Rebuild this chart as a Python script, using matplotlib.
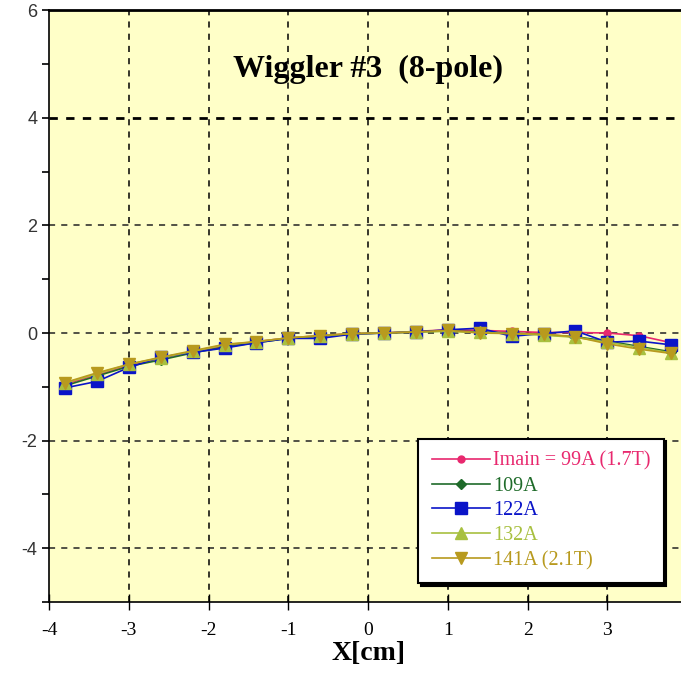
import numpy as np
from matplotlib import pyplot as plt
from matplotlib.ticker import MultipleLocator

plt.rcParams['axes.unicode_minus'] = False

# horizontal position of the measurement points [cm]
x_cm = [-3.8, -3.4, -3.0, -2.6, -2.2, -1.8, -1.4, -1.0, -0.6, -0.2,
        0.2, 0.6, 1.0, 1.4, 1.8, 2.2, 2.6, 3.0, 3.4, 3.8]

# field integral deviation for each main coil current
i99 = [-0.95, -0.78, -0.60, -0.47, -0.35, -0.24, -0.16, -0.09, -0.05, -0.01,
       0.00, 0.03, 0.06, 0.05, 0.03, 0.01, 0.01, 0.00, -0.05, -0.18]
i109 = [-0.98, -0.80, -0.62, -0.50, -0.37, -0.26, -0.18, -0.10, -0.06, -0.02,
        0.00, 0.02, 0.04, 0.02, 0.00, -0.03, -0.07, -0.15, -0.25, -0.35]
i122 = [-1.02, -0.90, -0.64, -0.45, -0.36, -0.28, -0.18, -0.10, -0.10, -0.02,
        0.00, 0.02, 0.06, 0.09, -0.06, -0.01, 0.04, -0.17, -0.15, -0.22]
i132 = [-0.93, -0.76, -0.58, -0.46, -0.34, -0.22, -0.16, -0.09, -0.05, -0.01,
        0.00, 0.02, 0.03, 0.01, -0.01, -0.04, -0.08, -0.17, -0.27, -0.37]
i141 = [-0.92, -0.74, -0.58, -0.45, -0.33, -0.21, -0.16, -0.09, -0.05, -0.01,
        0.00, 0.02, 0.05, 0.00, -0.01, -0.02, -0.07, -0.20, -0.30, -0.38]

labels = ['Imain = 99A (1.7T)', '109A', '122A', '132A', '141A (2.1T)']
colors = ['#e8286e', '#1f6b2a', '#0a14c8', '#a8c040', '#b89a1e']
markers = ['o', 'D', 's', '^', 'v']
msizes = [5, 5, 8, 8, 9]

fig = plt.figure(figsize=(6.81, 6.75), dpi=100)
ax = fig.add_axes([0.072, 0.108, 0.937, 0.877])
ax.set_facecolor('#ffffc8')

series = [i99, i109, i122, i132, i141]
for vals, lab, c, m, ms in zip(series, labels, colors, markers, msizes):
    ax.plot(x_cm, vals, color=c, marker=m, markersize=ms, lw=1.2, label=lab,
            zorder=3)

ax.set_xlim(-4, 4)
ax.set_ylim(-5, 6)

# grid
for gx in range(-3, 4):
    ax.axvline(gx, color='black', lw=1.1, ls=(0, (4, 4)), zorder=1)
for gy in [-4, -2, 0, 2]:
    ax.axhline(gy, color='#222222', lw=1.1, ls=(0, (4, 4)), zorder=1)
ax.axhline(4, color='black', lw=2.0, ls=(0, (3, 3)), zorder=1)

ax.spines['right'].set_visible(False)
ax.spines['top'].set_linewidth(2)
ax.spines['left'].set_linewidth(1.2)
ax.spines['bottom'].set_linewidth(1.2)

ax.xaxis.set_major_locator(MultipleLocator(1))
ax.yaxis.set_major_locator(MultipleLocator(2))
ax.yaxis.set_minor_locator(MultipleLocator(1))
ax.tick_params(axis='x', direction='inout', length=12, width=1, pad=8)
ax.tick_params(axis='y', which='both', direction='out', length=5, width=1.2,
               labelsize=13, labelcolor='#333333')
for t in ax.get_xticklabels():
    t.set_fontfamily('Liberation Serif')
    t.set_fontsize(14)
ax.set_yticks([-4, -2, 0, 2, 4, 6])
ax.set_yticklabels(['-4', '-2', '0', '2', '4', '6'], family='Liberation Sans')

ax.set_xlabel('X[cm]', family='Liberation Serif', fontweight='bold',
              fontsize=20, labelpad=2)
ax.text(0.0, 4.9, 'Wiggler #3  (8-pole)', family='Liberation Serif',
        fontweight='bold', fontsize=23, ha='center', va='center')

leg = ax.legend(loc='lower left', bbox_to_anchor=(0.579, 0.032),
                prop={'family': 'Liberation Serif', 'size': 14.5},
                labelcolor='linecolor', frameon=True, fancybox=False,
                shadow={'color': 'black', 'alpha': 1}, handlelength=2.9,
                borderpad=0.65, labelspacing=0.28, handletextpad=0.15,
                borderaxespad=0)
leg.get_frame().set_edgecolor('black')
leg.get_frame().set_linewidth(1.5)
leg.get_frame().set_alpha(1)
leg.set_zorder(5)

fig.savefig('out.png', dpi=100, facecolor='white')
